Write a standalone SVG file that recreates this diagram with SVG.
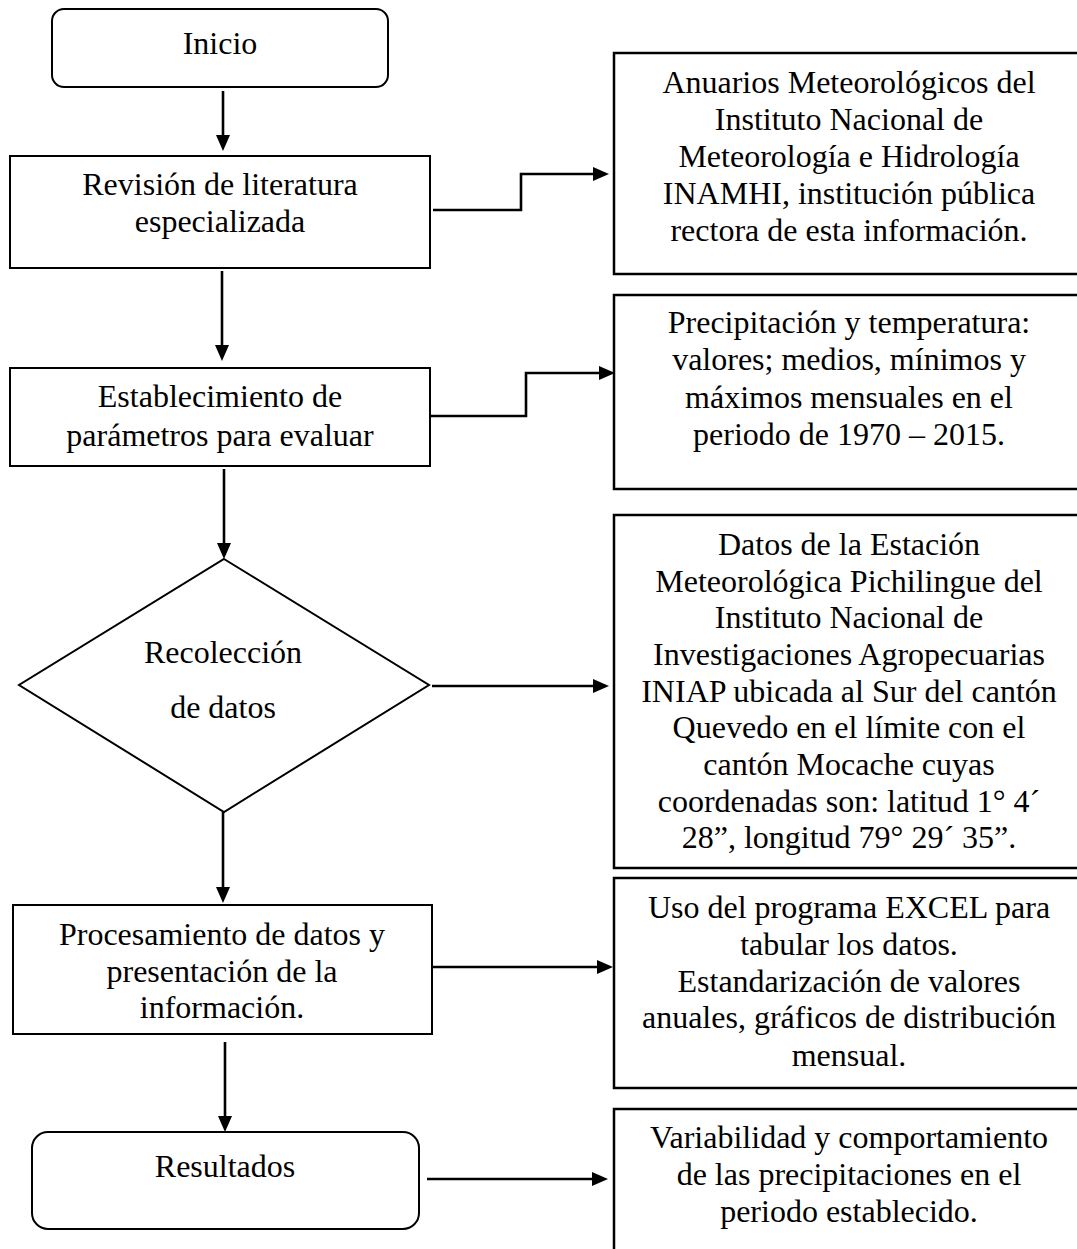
<svg xmlns="http://www.w3.org/2000/svg" width="1077" height="1249" viewBox="0 0 1077 1249">
<style>
.box{fill:#fff;stroke:#000;stroke-width:2}
.rbox{fill:#fff;stroke:#000;stroke-width:2.5}
.t{font-family:"Liberation Serif","Times New Roman",serif;font-size:32px;fill:#000;text-anchor:middle}
.c{fill:none;stroke:#000;stroke-width:2.6}
</style>
<defs>
<marker id="ah" markerUnits="userSpaceOnUse" markerWidth="16" markerHeight="14" refX="6" refY="7" orient="auto">
<path d="M0,0 L16,7 L0,14 z" fill="#000"/>
</marker>
</defs>
<rect width="1077" height="1249" fill="#fff"/>
<g id="connectors">
<line class="c" x1="223" y1="91" x2="223" y2="141" marker-end="url(#ah)"/>
<polyline class="c" points="433,210 521,210 521,174 599,174" marker-end="url(#ah)"/>
<line class="c" x1="222" y1="271" x2="222" y2="351" marker-end="url(#ah)"/>
<polyline class="c" points="431,416 526,416 526,373 605,373" marker-end="url(#ah)"/>
<line class="c" x1="224" y1="469" x2="224" y2="549" marker-end="url(#ah)"/>
<line class="c" x1="432" y1="686" x2="599" y2="686" marker-end="url(#ah)"/>
<line class="c" x1="223" y1="812" x2="223" y2="893" marker-end="url(#ah)"/>
<line class="c" x1="433" y1="967" x2="603" y2="967" marker-end="url(#ah)"/>
<line class="c" x1="225" y1="1042" x2="225" y2="1122" marker-end="url(#ah)"/>
<line class="c" x1="427" y1="1179" x2="598" y2="1179" marker-end="url(#ah)"/>
</g>
<g id="inicio">
<rect class="box" x="52" y="9" width="336" height="78" rx="12"/>
<text class="t" x="220" y="54">Inicio</text>
</g>
<g id="revision">
<rect class="box" x="10" y="156" width="420" height="112"/>
<text class="t" x="220" y="195">Revisión de literatura</text>
<text class="t" x="220" y="232">especializada</text>
</g>
<g id="anuarios">
<rect class="rbox" x="614" y="53" width="470" height="221"/>
<text class="t" x="849" y="93">Anuarios Meteorológicos del</text>
<text class="t" x="849" y="130">Instituto Nacional de</text>
<text class="t" x="849" y="167">Meteorología e Hidrología</text>
<text class="t" x="849" y="204">INAMHI, institución pública</text>
<text class="t" x="849" y="241">rectora de esta información.</text>
</g>
<g id="establecimiento">
<rect class="box" x="10" y="368" width="420" height="98"/>
<text class="t" x="220" y="407">Establecimiento de</text>
<text class="t" x="220" y="446">parámetros para evaluar</text>
</g>
<g id="precipitacion">
<rect class="rbox" x="614" y="295" width="470" height="194"/>
<text class="t" x="849" y="333">Precipitación y temperatura:</text>
<text class="t" x="849" y="370">valores; medios, mínimos y</text>
<text class="t" x="849" y="408">máximos mensuales en el</text>
<text class="t" x="849" y="445">periodo de 1970 – 2015.</text>
</g>
<g id="recoleccion">
<polygon class="box" points="224,559 429,685 224,812 19,685"/>
<text class="t" x="223" y="663">Recolección</text>
<text class="t" x="223" y="718">de datos</text>
</g>
<g id="datos">
<rect class="rbox" x="614" y="515" width="470" height="353"/>
<text class="t" x="849" y="555">Datos de la Estación</text>
<text class="t" x="849" y="592">Meteorológica Pichilingue del</text>
<text class="t" x="849" y="628">Instituto Nacional de</text>
<text class="t" x="849" y="665">Investigaciones Agropecuarias</text>
<text class="t" x="849" y="702">INIAP ubicada al Sur del cantón</text>
<text class="t" x="849" y="738">Quevedo en el límite con el</text>
<text class="t" x="849" y="775">cantón Mocache cuyas</text>
<text class="t" x="849" y="812">coordenadas son: latitud 1° 4´</text>
<text class="t" x="849" y="848">28”, longitud 79° 29´ 35”.</text>
</g>
<g id="procesamiento">
<rect class="box" x="13" y="905" width="419" height="129"/>
<text class="t" x="222" y="945">Procesamiento de datos y</text>
<text class="t" x="222" y="982">presentación de la</text>
<text class="t" x="222" y="1018">información.</text>
</g>
<g id="uso">
<rect class="rbox" x="614" y="878" width="470" height="210"/>
<text class="t" x="849" y="918">Uso del programa EXCEL para</text>
<text class="t" x="849" y="955">tabular los datos.</text>
<text class="t" x="849" y="992">Estandarización de valores</text>
<text class="t" x="849" y="1028">anuales, gráficos de distribución</text>
<text class="t" x="849" y="1066">mensual.</text>
</g>
<g id="resultados">
<rect class="box" x="32" y="1132" width="387" height="97" rx="16"/>
<text class="t" x="225" y="1177">Resultados</text>
</g>
<g id="variabilidad">
<rect class="rbox" x="614" y="1109" width="470" height="170"/>
<text class="t" x="849" y="1148">Variabilidad y comportamiento</text>
<text class="t" x="849" y="1185">de las precipitaciones en el</text>
<text class="t" x="849" y="1222">periodo establecido.</text>
</g>
</svg>
